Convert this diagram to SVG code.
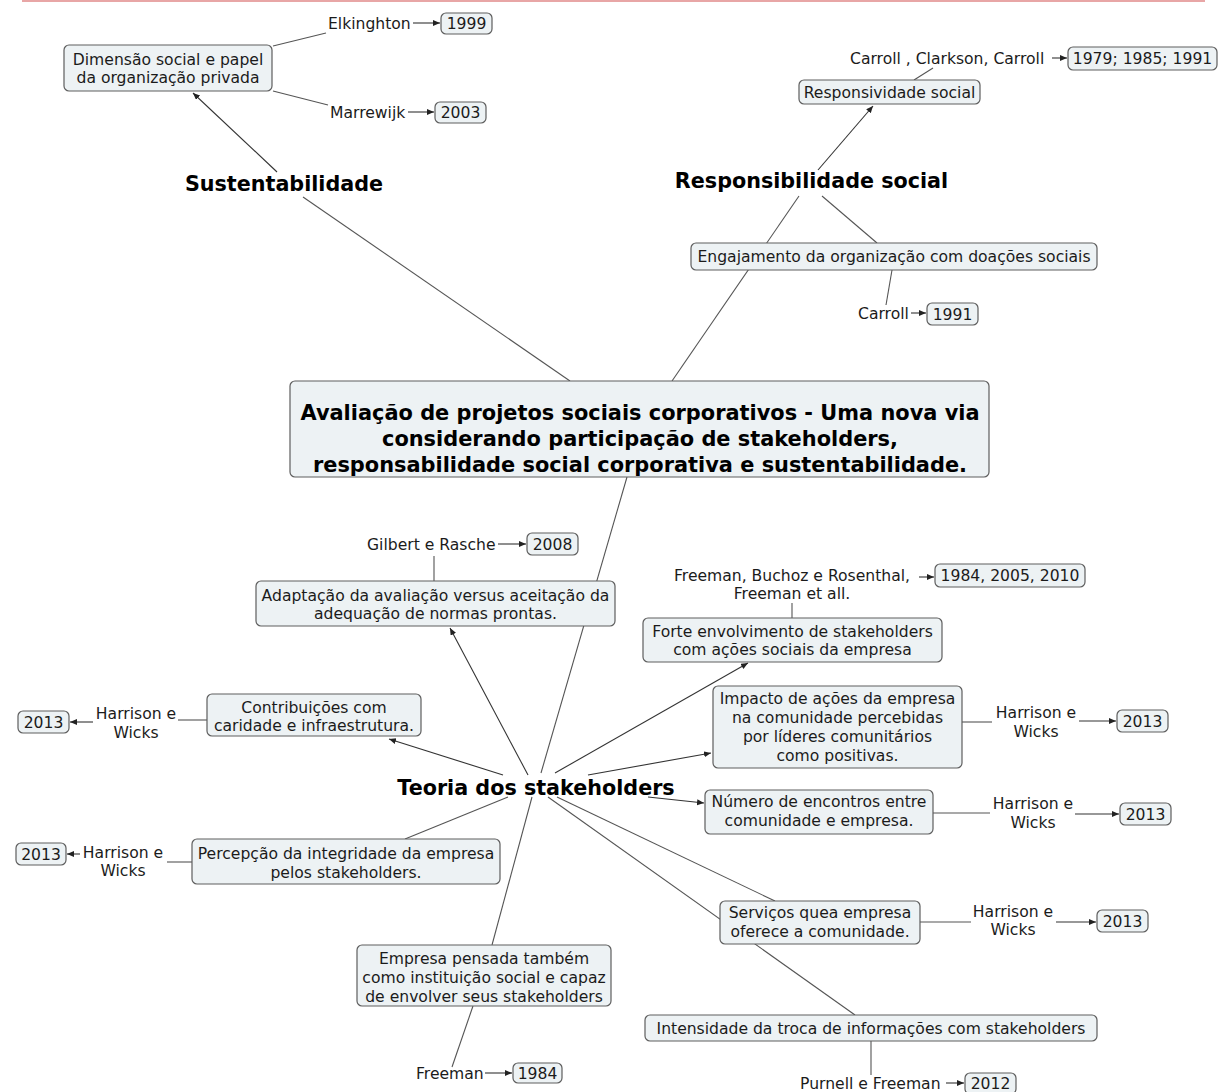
<svg xmlns="http://www.w3.org/2000/svg" width="1221" height="1092" viewBox="0 0 1221 1092">
<defs>
<marker id="ah" markerUnits="userSpaceOnUse" markerWidth="8" markerHeight="7" refX="7" refY="3" orient="auto">
<path d="M0,0 L7,3 L0,6 z" fill="#222"/>
</marker>
<style>
.bx{fill:#edf2f4;stroke:#5e5e5e;stroke-width:1.2}
.t{font-family:"DejaVu Sans",Verdana,sans-serif;font-size:15.6px;fill:#1b1b1b}
.m{text-anchor:middle}
.h{font-family:"DejaVu Sans",Verdana,sans-serif;font-size:20.7px;font-weight:bold;fill:#000}
.c{font-size:20.9px}
.ln{stroke:#555;stroke-width:1.1;fill:none}
.ar{stroke:#333;stroke-width:1.1;fill:none;marker-end:url(#ah)}
</style>
</defs>
<rect width="1221" height="1092" fill="#fff"/>
<line x1="22" y1="1" x2="1205" y2="1" stroke="#e8a6a6" stroke-width="2"/>

<g id="connectors">
<line class="ar" x1="277" y1="172" x2="193" y2="93"/>
<line class="ln" x1="303" y1="197" x2="570" y2="381"/>
<line class="ln" x1="273" y1="46" x2="326" y2="33"/>
<line class="ln" x1="273" y1="91" x2="328" y2="105"/>
<line class="ar" x1="413" y1="23" x2="440" y2="23"/>
<line class="ar" x1="408" y1="112" x2="434" y2="112"/>
<line class="ar" x1="818" y1="170" x2="873" y2="106"/>
<line class="ln" x1="799" y1="196" x2="672" y2="381"/>
<line class="ln" x1="822" y1="196" x2="877" y2="243"/>
<line class="ln" x1="914" y1="80" x2="933" y2="68"/>
<line class="ar" x1="1052" y1="58" x2="1067" y2="58"/>
<line class="ln" x1="892" y1="270" x2="886" y2="305"/>
<line class="ar" x1="911" y1="313" x2="926" y2="313"/>
<line class="ln" x1="627" y1="477" x2="541" y2="773"/>
<line class="ar" x1="528" y1="775" x2="450" y2="628"/>
<line class="ln" x1="434" y1="581" x2="434" y2="556"/>
<line class="ar" x1="498" y1="544" x2="526" y2="544"/>
<line class="ar" x1="555" y1="773" x2="748" y2="663"/>
<line class="ln" x1="792" y1="618" x2="792" y2="603"/>
<line class="ar" x1="919" y1="577" x2="934" y2="577"/>
<line class="ar" x1="588" y1="775" x2="711" y2="753"/>
<line class="ln" x1="962" y1="722" x2="992" y2="722"/>
<line class="ar" x1="1079" y1="721" x2="1116" y2="721"/>
<line class="ar" x1="648" y1="797" x2="704" y2="803"/>
<line class="ln" x1="933" y1="813" x2="990" y2="813"/>
<line class="ar" x1="1075" y1="814" x2="1119" y2="814"/>
<line class="ar" x1="503" y1="775" x2="389" y2="739"/>
<line class="ln" x1="207" y1="720" x2="178" y2="720"/>
<line class="ar" x1="93" y1="722" x2="70" y2="722"/>
<line class="ln" x1="508" y1="797" x2="405" y2="839"/>
<line class="ln" x1="192" y1="862" x2="167" y2="862"/>
<line class="ar" x1="80" y1="854" x2="67" y2="854"/>
<line class="ln" x1="532" y1="797" x2="492" y2="945"/>
<line class="ln" x1="473" y1="1006" x2="452" y2="1067"/>
<line class="ar" x1="485" y1="1073" x2="512" y2="1073"/>
<line class="ln" x1="557" y1="797" x2="775" y2="901"/>
<line class="ln" x1="920" y1="922" x2="971" y2="922"/>
<line class="ar" x1="1056" y1="922" x2="1096" y2="922"/>
<line class="ln" x1="548" y1="797" x2="855" y2="1015"/>
<line class="ln" x1="871" y1="1041" x2="871" y2="1075"/>
<line class="ar" x1="946" y1="1083" x2="964" y2="1083"/>
</g>

<g id="sustentabilidade"><text class="h m" x="284" y="191">Sustentabilidade</text></g>
<g id="dimensao">
<rect class="bx" x="64" y="45" width="208" height="46" rx="5"/>
<text class="t m" x="168" y="64.5">Dimensão social e papel</text>
<text class="t m" x="168" y="82.5">da organização privada</text>
</g>
<g id="elkinghton"><text class="t" x="328" y="28.5">Elkinghton</text></g>
<g id="y1999"><rect class="bx" x="441" y="13" width="51" height="21" rx="5"/><text class="t m" x="466.5" y="29">1999</text></g>
<g id="marrewijk"><text class="t" x="330" y="117.5">Marrewijk</text></g>
<g id="y2003"><rect class="bx" x="435" y="102" width="51" height="21" rx="5"/><text class="t m" x="460.5" y="118">2003</text></g>

<g id="responsibilidade"><text class="h m" x="811.5" y="188">Responsibilidade social</text></g>
<g id="responsividade"><rect class="bx" x="799" y="80" width="181" height="24" rx="5"/><text class="t m" x="889.5" y="97.5">Responsividade social</text></g>
<g id="carroll3"><text class="t" x="850" y="63.5">Carroll , Clarkson, Carroll</text></g>
<g id="y1979"><rect class="bx" x="1068" y="47" width="149" height="23" rx="5"/><text class="t m" x="1142.5" y="64">1979; 1985; 1991</text></g>
<g id="engajamento"><rect class="bx" x="691" y="243" width="406" height="27" rx="5"/><text class="t m" x="894" y="262">Engajamento da organização com doações sociais</text></g>
<g id="carroll"><text class="t" x="858" y="318.5">Carroll</text></g>
<g id="y1991"><rect class="bx" x="927" y="303" width="51" height="22" rx="5"/><text class="t m" x="952.5" y="319.5">1991</text></g>

<g id="central">
<rect class="bx" x="290" y="381" width="699" height="96" rx="5"/>
<text class="h c m" x="640" y="419.5">Avaliação de projetos sociais corporativos - Uma nova via</text>
<text class="h c m" x="640" y="445.5">considerando participação de stakeholders,</text>
<text class="h c m" x="640" y="471.5">responsabilidade social corporativa e sustentabilidade.</text>
</g>

<g id="adaptacao">
<rect class="bx" x="256" y="581" width="359" height="45" rx="5"/>
<text class="t m" x="435.5" y="600.5">Adaptação da avaliação versus aceitação da</text>
<text class="t m" x="435.5" y="618.5">adequação de normas prontas.</text>
</g>
<g id="gilbert"><text class="t" x="367" y="549.5">Gilbert e Rasche</text></g>
<g id="y2008"><rect class="bx" x="527" y="533" width="51" height="22" rx="5"/><text class="t m" x="552.5" y="549.5">2008</text></g>

<g id="forte">
<rect class="bx" x="643" y="618" width="299" height="44" rx="5"/>
<text class="t m" x="792.5" y="636.5">Forte envolvimento de stakeholders</text>
<text class="t m" x="792.5" y="654.5">com ações sociais da empresa</text>
</g>
<g id="freeman3">
<text class="t m" x="792" y="580.5">Freeman, Buchoz e Rosenthal,</text>
<text class="t m" x="792" y="599">Freeman et all.</text>
</g>
<g id="y1984b"><rect class="bx" x="935" y="564" width="150" height="23" rx="5"/><text class="t m" x="1010" y="581">1984, 2005, 2010</text></g>

<g id="teoria"><text class="h m" x="536" y="794.5">Teoria dos stakeholders</text></g>

<g id="impacto">
<rect class="bx" x="713" y="686" width="249" height="82" rx="5"/>
<text class="t m" x="837.5" y="703.5">Impacto de ações da empresa</text>
<text class="t m" x="837.5" y="722.5">na comunidade percebidas</text>
<text class="t m" x="837.5" y="741.5">por líderes comunitários</text>
<text class="t m" x="837.5" y="760.5">como positivas.</text>
</g>
<g id="harrison1"><text class="t m" x="1036" y="717.5">Harrison e</text><text class="t m" x="1036" y="736.5">Wicks</text></g>
<g id="y2013a"><rect class="bx" x="1117" y="710" width="51" height="22" rx="5"/><text class="t m" x="1142.5" y="726.5">2013</text></g>

<g id="numero">
<rect class="bx" x="705" y="790" width="228" height="44" rx="5"/>
<text class="t m" x="819" y="806.5">Número de encontros entre</text>
<text class="t m" x="819" y="825.5">comunidade e empresa.</text>
</g>
<g id="harrison2"><text class="t m" x="1033" y="808.5">Harrison e</text><text class="t m" x="1033" y="827.5">Wicks</text></g>
<g id="y2013b"><rect class="bx" x="1120" y="803" width="51" height="22" rx="5"/><text class="t m" x="1145.5" y="819.5">2013</text></g>

<g id="contribuicoes">
<rect class="bx" x="207" y="694" width="214" height="42" rx="5"/>
<text class="t m" x="314" y="712.5">Contribuições com</text>
<text class="t m" x="314" y="730.5">caridade e infraestrutura.</text>
</g>
<g id="harrison3"><text class="t m" x="136" y="718.5">Harrison e</text><text class="t m" x="136" y="737.5">Wicks</text></g>
<g id="y2013c"><rect class="bx" x="18" y="711" width="51" height="22" rx="5"/><text class="t m" x="43.5" y="727.5">2013</text></g>

<g id="percepcao">
<rect class="bx" x="192" y="839" width="308" height="45" rx="5"/>
<text class="t m" x="346" y="858.5">Percepção da integridade da empresa</text>
<text class="t m" x="346" y="877.5">pelos stakeholders.</text>
</g>
<g id="harrison4"><text class="t m" x="123" y="857.5">Harrison e</text><text class="t m" x="123" y="875.5">Wicks</text></g>
<g id="y2013d"><rect class="bx" x="16" y="843" width="50" height="22" rx="5"/><text class="t m" x="41" y="859.5">2013</text></g>

<g id="empresa">
<rect class="bx" x="357" y="945" width="254" height="61" rx="5"/>
<text class="t m" x="484" y="963.5">Empresa pensada também</text>
<text class="t m" x="484" y="982.5">como instituição social e capaz</text>
<text class="t m" x="484" y="1001.5">de envolver seus stakeholders</text>
</g>
<g id="freeman1"><text class="t" x="416" y="1078.5">Freeman</text></g>
<g id="y1984"><rect class="bx" x="513" y="1063" width="49" height="20" rx="5"/><text class="t m" x="537.5" y="1078.5">1984</text></g>

<g id="servicos">
<rect class="bx" x="720" y="901" width="200" height="43" rx="5"/>
<text class="t m" x="820" y="917.5">Serviços quea empresa</text>
<text class="t m" x="820" y="936.5">oferece a comunidade.</text>
</g>
<g id="harrison5"><text class="t m" x="1013" y="916.5">Harrison e</text><text class="t m" x="1013" y="934.5">Wicks</text></g>
<g id="y2013e"><rect class="bx" x="1097" y="910" width="51" height="22" rx="5"/><text class="t m" x="1122.5" y="926.5">2013</text></g>

<g id="intensidade">
<rect class="bx" x="645" y="1015" width="452" height="26" rx="5"/>
<text class="t m" x="871" y="1033.5">Intensidade da troca de informações com stakeholders</text>
</g>
<g id="purnell"><text class="t" x="800" y="1088.5">Purnell e Freeman</text></g>
<g id="y2012"><rect class="bx" x="965" y="1073" width="51" height="21" rx="5"/><text class="t m" x="990.5" y="1089">2012</text></g>
</svg>
